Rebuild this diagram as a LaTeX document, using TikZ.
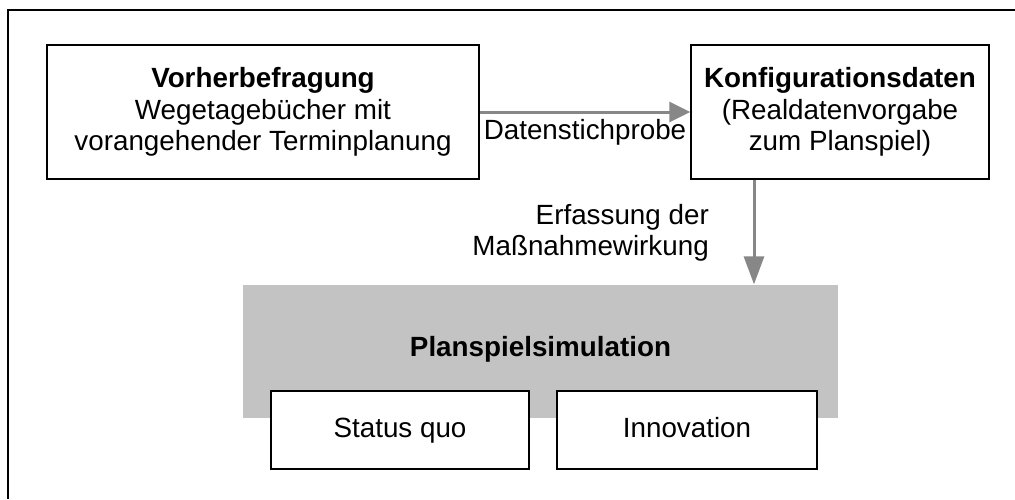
\documentclass[tikz,border=0pt]{standalone}
\usepackage{fontspec}
\setmainfont{Liberation Sans}
\usetikzlibrary{arrows.meta}
\definecolor{flowgray}{gray}{0.53}
\definecolor{simgray}{gray}{0.765}
\begin{document}
\begin{tikzpicture}[x=1pt,y=-1pt,
  txt/.style={font=\fontsize{27.8}{31.5}\selectfont},
  box/.style={txt,draw=black,line width=1.3pt,fill=white,align=center,inner sep=0pt},
  variant/.style={box,minimum height=78,text height=20pt,text depth=6pt},
  flow/.style={draw=flowgray,line width=3pt},
  lbl/.style={txt,inner sep=0pt}]
\useasboundingbox (0,0) rectangle (1015,499);
\fill[white] (0,0) rectangle (1015,499);
% outer frame (open towards the right and bottom)
\draw[line width=1.5pt] (8,499) -- (8,10) -- (1015,10);

% top row
\node[box,minimum width=432,minimum height=134] (vor) at (263,112)
  {\textbf{Vorherbefragung}\\Wegetagebücher mit\\vorangehender Terminplanung};
\node[box,minimum width=298,minimum height=134] (konf) at (840,112)
  {\textbf{Konfigurationsdaten}\\(Realdatenvorgabe\\zum Planspiel)};

% simulation block
\node[txt,fill=simgray,minimum width=595,minimum height=133,inner sep=0pt] (sim) at (540.5,351) {};
\node[txt,font=\fontsize{27.8}{31.5}\selectfont\bfseries] (simlbl) at (540.5,349) {Planspielsimulation};
\node[variant,minimum width=258] (sq) at (400,430) {Status quo};
\node[variant,minimum width=260] (inn) at (687,430) {Innovation};

% connectors
\coordinate (ax) at (754,0);
\draw[flow,-{Triangle[length=21pt,width=20pt]}] (vor.east) -- (konf.west);
\draw[flow,-{Triangle[length=28pt,width=20pt]}] (konf.south -| ax) -- (sim.north -| ax);

% connector labels
\node[lbl] (dlbl) at (585,132) {Datenstichprobe};
\node[lbl,align=right,anchor=east] (elbl) at (709,233) {Erfassung der\\Maßnahmewirkung};
\end{tikzpicture}
\end{document}
